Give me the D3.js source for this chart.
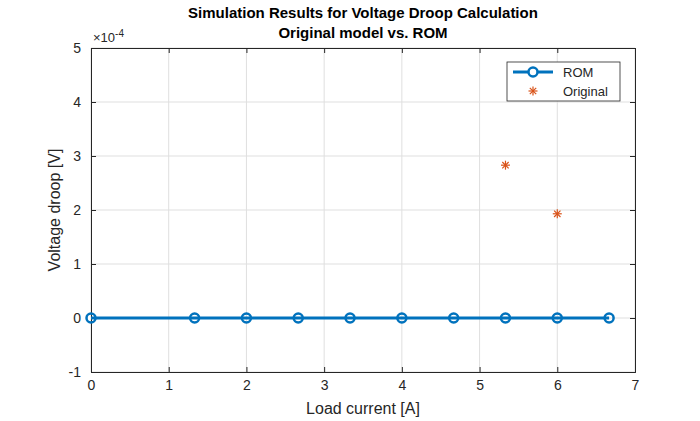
<!DOCTYPE html><html><head><script src="https://cdn.jsdelivr.net/npm/d3@7"></script>
<style>body{margin:0;background:#fff}text{font-family:Arial,"Liberation Sans",sans-serif}</style></head><body>
<svg id="c" width="700" height="421"></svg>
<script>
const romX=[0,1.3333,2,2.6667,3.3333,4,4.6667,5.3333,6,6.6667];
const romY=[0,0,0,0,0,0,0,0,0,0];
const origX=[5.3333,6];
const origY=[2.83,1.93];
const xTicks=[0,1,2,3,4,5,6,7];
const yTicks=[-1,0,1,2,3,4,5];
const svg=d3.select("#c");
const L=91,R=635,T=48,B=372;
const x=d3.scaleLinear().domain([0,7]).range([L,R]);
const y=d3.scaleLinear().domain([-1,5]).range([B,T]);
const fmt=d=>String(d);
svg.append("rect").attr("x",L).attr("y",T).attr("width",R-L).attr("height",B-T).attr("fill","#fff");
const g=svg.append("g");
xTicks.forEach(t=>g.append("line").attr("x1",x(t)).attr("x2",x(t)).attr("y1",T).attr("y2",B).attr("stroke","#dfdfdf"));
yTicks.forEach(t=>g.append("line").attr("y1",y(t)).attr("y2",y(t)).attr("x1",L).attr("x2",R).attr("stroke","#dfdfdf"));
const ax=svg.append("g").attr("transform",`translate(0,${B})`).call(d3.axisBottom(x).tickValues(xTicks).tickSize(-5).tickPadding(8).tickFormat(fmt));
const ax2=svg.append("g").attr("transform",`translate(0,${T})`).call(d3.axisTop(x).tickValues(xTicks).tickSize(-5).tickFormat(""));
const ay=svg.append("g").attr("transform",`translate(${L},0)`).call(d3.axisLeft(y).tickValues(yTicks).tickSize(-5).tickPadding(10).tickFormat(fmt));
const ay2=svg.append("g").attr("transform",`translate(${R},0)`).call(d3.axisRight(y).tickValues(yTicks).tickSize(-5).tickFormat(""));
[ax,ax2,ay,ay2].forEach(a=>{a.selectAll("path,line").attr("stroke","#262626");a.selectAll("text").attr("fill","#262626").attr("font-size",14).attr("font-family","Arial");});
const line=d3.line().x((d,i)=>x(romX[i])).y(d=>y(d));
svg.append("path").datum(romY).attr("d",line).attr("fill","none").attr("stroke","#0072BD").attr("stroke-width",3);
svg.selectAll(".m").data(romY).enter().append("circle").attr("cx",(d,i)=>x(romX[i])).attr("cy",d=>y(d)).attr("r",4.5).attr("fill","none").attr("stroke","#0072BD").attr("stroke-width",2.5);
function star(gx,cx,cy,s){[0,45,90,135].forEach(a=>{const r=a*Math.PI/180;gx.append("line").attr("x1",cx-s*Math.cos(r)).attr("y1",cy-s*Math.sin(r)).attr("x2",cx+s*Math.cos(r)).attr("y2",cy+s*Math.sin(r)).attr("stroke","#D95319").attr("stroke-width",1.2);});}
origX.forEach((v,i)=>star(svg,x(v),y(origY[i]),4.5));
svg.append("text").attr("x",93).attr("y",42).attr("font-size",13).attr("fill","#262626").html("×10<tspan dy='-5' font-size='10'>-4</tspan>");
svg.append("text").attr("x",363).attr("y",18).attr("text-anchor","middle").attr("font-size",15).attr("font-weight","bold").attr("fill","#000").text("Simulation Results for Voltage Droop Calculation");
svg.append("text").attr("x",363).attr("y",38).attr("text-anchor","middle").attr("font-size",15).attr("font-weight","bold").attr("fill","#000").text("Original model vs. ROM");
svg.append("text").attr("x",363).attr("y",414).attr("text-anchor","middle").attr("font-size",16).attr("fill","#262626").text("Load current [A]");
svg.append("text").attr("transform","translate(60,210) rotate(-90)").attr("text-anchor","middle").attr("font-size",16).attr("fill","#262626").text("Voltage droop [V]");
const lg=svg.append("g");
lg.append("rect").attr("x",507).attr("y",62).attr("width",113).attr("height",39).attr("fill","#fff").attr("stroke","#262626").attr("stroke-width",0.8);
lg.append("line").attr("x1",513).attr("x2",553).attr("y1",72).attr("y2",72).attr("stroke","#0072BD").attr("stroke-width",3);
lg.append("circle").attr("cx",533).attr("cy",72).attr("r",4.5).attr("fill","#fff").attr("stroke","#0072BD").attr("stroke-width",2.5);
star(lg,533,91,4.5);
lg.append("text").attr("x",563).attr("y",77).attr("font-size",13).attr("fill","#262626").text("ROM");
lg.append("text").attr("x",563).attr("y",96).attr("font-size",13).attr("fill","#262626").text("Original");
</script></body></html>
